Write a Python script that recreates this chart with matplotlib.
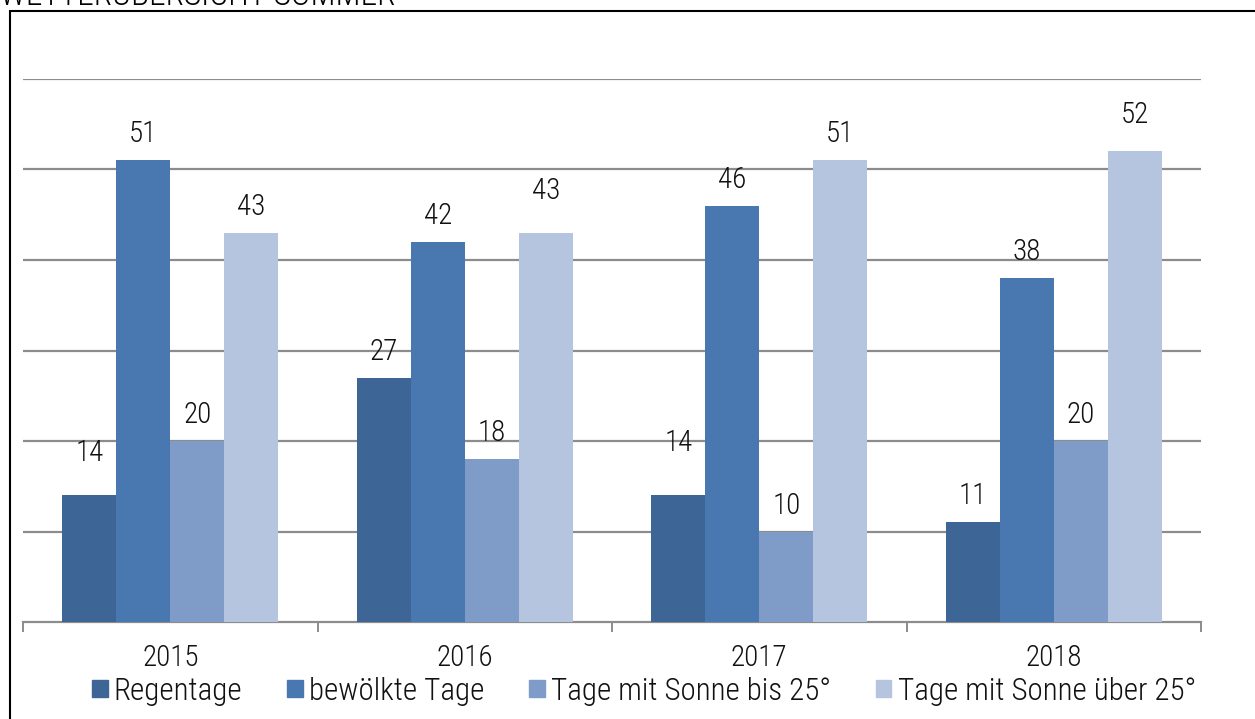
import matplotlib.pyplot as plt
import numpy as np
from matplotlib.patches import Rectangle
from matplotlib import font_manager

# Data
years = ['2015', '2016', '2017', '2018']
series = ['Regentage', 'bewölkte Tage', 'Tage mit Sonne bis 25°', 'Tage mit Sonne über 25°']
regentage = [14, 27, 14, 11]
bewoelkt = [51, 42, 46, 38]
sonne_bis25 = [20, 18, 10, 20]
sonne_ueber25 = [43, 43, 51, 52]

colors = ['#3d6596', '#4977b0', '#7f9cc8', '#b5c4df']
# extra lift (px) of some value labels, as in the original
lift = {(0, 0): 16, (3, 1): 16, (0, 2): 26, (3, 3): 10}

installed = {f.name for f in font_manager.fontManager.ttflist}
narrow = [n for n in ['Liberation Sans Narrow', 'Roboto Condensed', 'Open Sans Condensed',
                      'Arial Narrow', 'DejaVu Sans Condensed'] if n in installed]
fam = narrow[0] if narrow else 'Liberation Sans'
plt.rcParams['font.family'] = [fam, 'DejaVu Sans']
plt.rcParams['font.weight'] = 'light'
fs = 21 if narrow else 18

W, H = 1255, 719
fig = plt.figure(figsize=(W / 100, H / 100), dpi=100)
ax = fig.add_axes([23 / W, 1 - 622 / H, (1201 - 23) / W, (622 - 79) / H])

# frame and cut-off title
fig.patches.append(Rectangle((10 / W, -0.1), 1.2, 1.1 - 11 / H, transform=fig.transFigure,
                             fill=False, edgecolor='black', linewidth=1.5))
fig.text(0 / W, 1 - 5 / H, 'WETTERÜBERSICHT SOMMER', fontsize=fs + 3, va='baseline', ha='left')

data = [regentage, bewoelkt, sonne_bis25, sonne_ueber25]
x = np.arange(len(years))
bw = 0.1834
for i, vals in enumerate(data):
    pos = x + (i - 1.5) * bw
    ax.bar(pos, vals, width=bw, color=colors[i], zorder=3, label=series[i])
    for j, v in enumerate(vals):
        off = (18 + lift.get((i, j), 0)) * 0.72
        bbox = dict(facecolor='white', edgecolor='none', pad=2) if v == 10 else None
        ax.annotate(str(v), (pos[j], v), xytext=(0, off), textcoords='offset points',
                    ha='center', va='baseline', fontsize=fs, color='#111111', bbox=bbox, zorder=4)

ax.set_xlim(-0.5, 3.5)
ax.set_ylim(0, 60)
ax.set_yticks(np.arange(10, 61, 10))
ax.yaxis.grid(True, color='#8c8c8c', linewidth=1.6, zorder=0)
ax.tick_params(axis='y', length=0, labelleft=False)
for s in ['left', 'right', 'top']:
    ax.spines[s].set_visible(False)
ax.spines['bottom'].set_color('#8c8c8c')
ax.spines['bottom'].set_linewidth(1.6)

ax.set_xticks(np.arange(-0.5, 3.6, 1))
ax.set_xticklabels([])
ax.tick_params(axis='x', which='major', length=7, width=1.4, color='#8c8c8c')
ax.set_xticks(x, minor=True)
ax.set_xticklabels(years, minor=True, fontsize=fs, color='#111111')
ax.tick_params(axis='x', which='minor', length=0, pad=16)

handles = [Rectangle((0, 0), 1, 1, color=c) for c in colors]
ax.legend(handles, series, loc='center', bbox_to_anchor=(644 / W, 1 - 691 / H),
          bbox_transform=fig.transFigure, ncol=4, frameon=False, fontsize=fs + 1.3,
          handlelength=0.5, handleheight=0.5, handletextpad=0.2, columnspacing=1.45,
          labelcolor='#111111')

fig.savefig('out.png', dpi=100)
